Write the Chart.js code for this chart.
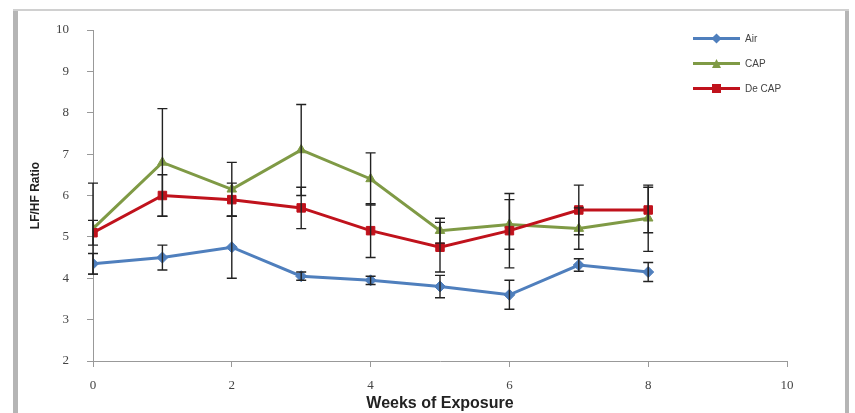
<!DOCTYPE html>
<html lang="en">
<head>
  <meta charset="UTF-8">
  <title>LF/HF Ratio by Weeks of Exposure</title>
  <style>
    body {
      margin: 0;
      background: #fff;
      font-family: 'Liberation Sans', Arial, sans-serif;
    }

    #wrap {
      position: relative;
      width: 855px;
      height: 413px;
    }

    #legend {
      position: absolute;
      left: 693px;
      top: 26px;
      font-size: 10px;
      color: #444;
    }

    .row {
      display: flex;
      align-items: center;
      height: 25px;
    }

    .swatch {
      position: relative;
      width: 47px;
      height: 3px;
      margin-right: 5px;
    }

    .swatch span {
      position: absolute;
      left: 19px;
      top: -3px;
      width: 9px;
      height: 9px;
    }
  </style>
</head>
<body>
  <div id="wrap">
    <canvas id="chart" width="855" height="413"></canvas>
    <div id="legend"></div>
  </div>

  <script src="https://cdn.jsdelivr.net/npm/chart.js"></script>
  <script>
    // weeks on the x axis
    const weeks = [0, 1, 2, 3, 4, 5, 6, 7, 8];

    const seriesNames = ['Air', 'CAP', 'De CAP'];

    const air = [4.35, 4.5, 4.75, 4.05, 3.95, 3.8, 3.6, 4.32, 4.15];
    const airErr = [0.25, 0.3, 0.75, 0.1, 0.1, 0.27, 0.35, 0.15, 0.23];

    const cap = [5.2, 6.8, 6.15, 7.1, 6.4, 5.15, 5.3, 5.2, 5.45];
    const capErr = [1.1, 1.3, 0.65, 1.1, 0.63, 0.3, 0.6, 0.5, 0.8];

    const deCap = [5.1, 6.0, 5.9, 5.7, 5.15, 4.75, 5.15, 5.65, 5.65];
    const deCapErr = [0.3, 0.5, 0.4, 0.5, 0.65, 0.6, 0.9, 0.6, 0.55];

    const colors = ['#4f7fbd', '#7f9a45', '#c0121c'];
    const markers = ['rectRot', 'triangle', 'rect'];

    function toPoints(vals) {
      return vals.map((v, i) => ({ x: weeks[i], y: v }));
    }

    // excel style error bars
    const errorBars = {
      id: 'errorBars',
      afterDatasetsDraw(chart) {
        const ctx = chart.ctx;
        const xs = chart.scales.x;
        const ys = chart.scales.y;
        ctx.save();
        ctx.strokeStyle = '#222';
        ctx.lineWidth = 1.4;
        chart.data.datasets.forEach(ds => {
          ds.data.forEach((p, i) => {
            const e = ds.err[i];
            const px = xs.getPixelForValue(p.x);
            const top = ys.getPixelForValue(p.y + e);
            const bot = ys.getPixelForValue(p.y - e);
            ctx.beginPath();
            ctx.moveTo(px, top);
            ctx.lineTo(px, bot);
            ctx.moveTo(px - 5, top);
            ctx.lineTo(px + 5, top);
            ctx.moveTo(px - 5, bot);
            ctx.lineTo(px + 5, bot);
            ctx.stroke();
          });
        });
        ctx.restore();
      }
    };

    // grey frame around the plot
    const frame = {
      id: 'frame',
      beforeDraw(chart) {
        const ctx = chart.ctx;
        ctx.save();
        ctx.fillStyle = '#b5b5b5';
        ctx.fillRect(13, 10, 5, 403);
        ctx.fillRect(845, 10, 4, 403);
        ctx.fillStyle = '#d0d0d0';
        ctx.fillRect(13, 9, 836, 2);
        ctx.restore();
      }
    };

    const allVals = [air, cap, deCap];
    const allErr = [airErr, capErr, deCapErr];

    const datasets = seriesNames.map((name, i) => ({
      label: name,
      data: toPoints(allVals[i]),
      err: allErr[i],
      borderColor: colors[i],
      backgroundColor: colors[i],
      borderWidth: 3,
      pointStyle: markers[i],
      pointRadius: i === 2 ? 6 : 5.5,
      pointBorderWidth: 1,
      tension: 0,
      order: 2 - i
    }));

    const tickFont = { family: 'Liberation Serif', size: 13 };

    new Chart(document.getElementById('chart'), {
      type: 'line',
      data: { datasets: datasets },
      options: {
        responsive: false,
        animation: false,
        layout: { padding: { left: 24, right: 68, top: 30, bottom: 0 } },
        plugins: {
          legend: { display: false },
          tooltip: { enabled: false }
        },
        scales: {
          x: {
            type: 'linear',
            min: 0,
            max: 10,
            afterFit: s => { s.height = 52; },
            ticks: { stepSize: 2, color: '#444', font: tickFont, padding: 11 },
            grid: { drawOnChartArea: false, tickLength: 6, color: '#999' },
            border: { color: '#999', width: 1 },
            title: {
              display: true,
              text: 'Weeks of Exposure',
              color: '#222',
              font: { family: 'Liberation Sans', size: 16, weight: 'bold' },
              padding: { top: 0, bottom: 0 }
            }
          },
          y: {
            min: 2,
            max: 10,
            afterFit: s => { s.width = 69; },
            ticks: { stepSize: 1, color: '#444', font: tickFont, padding: 18 },
            grid: { drawOnChartArea: false, tickLength: 6, color: '#999' },
            border: { color: '#999', width: 1 },
            title: {
              display: true,
              text: 'LF/HF Ratio',
              color: '#222',
              font: { family: 'Liberation Sans', size: 12, weight: 'bold' },
              padding: 4
            }
          }
        }
      },
      plugins: [frame, errorBars]
    });

    // legend
    const legend = document.getElementById('legend');
    seriesNames.forEach((name, i) => {
      const row = document.createElement('div');
      row.className = 'row';
      const sw = document.createElement('div');
      sw.className = 'swatch';
      sw.style.background = colors[i];
      const mk = document.createElement('span');
      mk.style.background = colors[i];
      if (i === 0) mk.style.transform = 'rotate(45deg) scale(0.8)';
      if (i === 1) mk.style.clipPath = 'polygon(50% 0, 100% 100%, 0 100%)';
      sw.appendChild(mk);
      const txt = document.createElement('span');
      txt.textContent = name;
      row.appendChild(sw);
      row.appendChild(txt);
      legend.appendChild(row);
    });
  </script>
</body>
</html>
